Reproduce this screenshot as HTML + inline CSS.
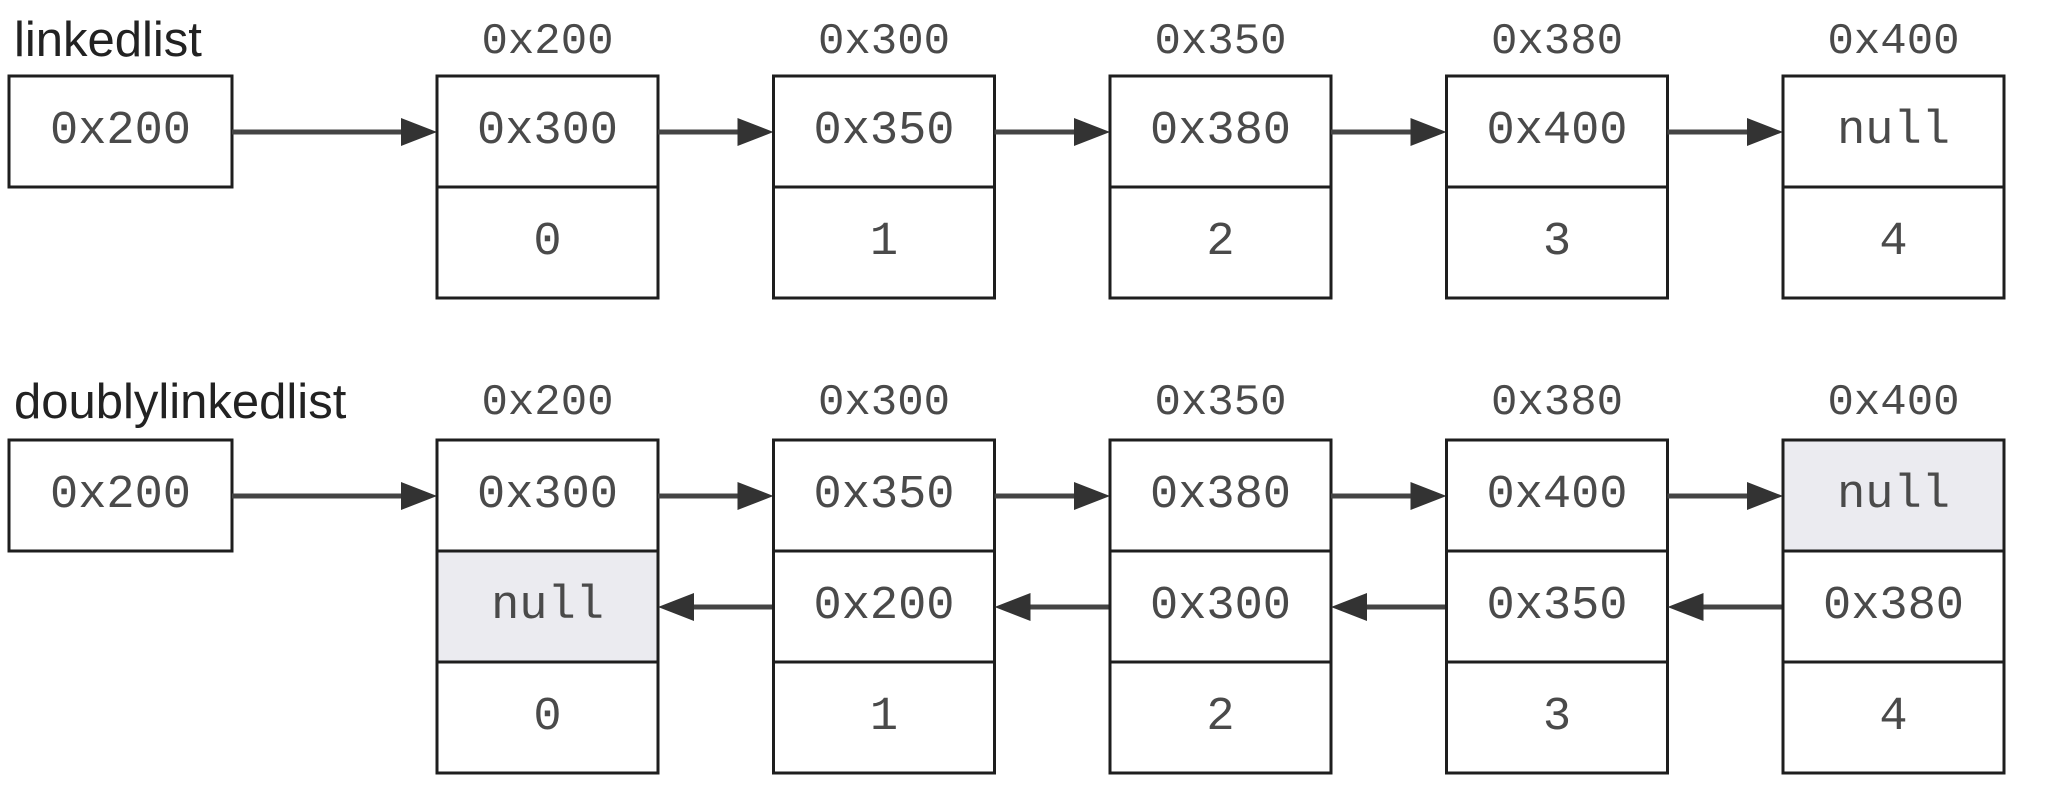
<!DOCTYPE html>
<html><head><meta charset="utf-8"><style>
html,body{margin:0;padding:0;background:#fff;}
svg{display:block;}
.mono{font-family:"Liberation Mono",monospace;fill:#4a4a4a;}
.sans{font-family:"Liberation Sans",sans-serif;fill:#222;}
</style></head>
<body>
<svg id="chart" width="2048" height="793" viewBox="0 0 2048 793" xmlns="http://www.w3.org/2000/svg"></svg>
<script>
const addresses = ["0x200","0x300","0x350","0x380","0x400"];
const singleNext = ["0x300","0x350","0x380","0x400","null"];
const doubleNext = ["0x300","0x350","0x380","0x400","null"];
const doublePrev = ["null","0x200","0x300","0x350","0x380"];
const values = ["0","1","2","3","4"];
const headValue = "0x200";

const NS = "http://www.w3.org/2000/svg";
const svg = document.getElementById('chart');
const nodeX = i => 437 + i * 336.5;
const NODE_W = 221;
const CELL_H = 111;
function el(tag, attrs, parent){
  const e = document.createElementNS(NS, tag);
  for (const k in attrs) e.setAttribute(k, attrs[k]);
  (parent || svg).appendChild(e);
  return e;
}
function text(x, y, s, cls, size, name){
  const t = el('text', {x:x, y:y, class:cls, 'font-size':size, 'text-anchor':'middle', 'dominant-baseline':'central'});
  
  
  t.textContent = s;
  return t;
}
function cell(x, y, w, h, s, shaded, name){
  const r = el('rect', {x:x, y:y, width:w, height:h, fill: shaded ? '#ebebf0' : '#fff', stroke:'#1e1e1e', 'stroke-width':3});
  
  
  text(x + w/2, y + h/2, s, 'mono', 47, name + '-text');
}
function arrow(x1, x2, y, name){
  const g = el('g', {});
  
  
  const dir = x2 > x1 ? 1 : -1;
  const hl = 36, hw = 14;
  el('line', {x1:x1, y1:y, x2:x2 - dir*hl, y2:y, stroke:'#444', 'stroke-width':5}, g);
  el('polygon', {points:`${x2},${y} ${x2-dir*hl},${y-hw} ${x2-dir*hl},${y+hw}`, fill:'#333'}, g);
}

// Titles
let t1 = el('text', {x:14, y:56, class:'sans', 'font-size':49});


t1.textContent = 'linkedlist';
let t2 = el('text', {x:14, y:418, class:'sans', 'font-size':49});


t2.textContent = 'doublylinkedlist';

// Singly linked list
const topY = 76, botY = 440;
cell(9, topY, 223, CELL_H, headValue, false, 'linkedlist-head');
arrow(232, nodeX(0), 132, 'linkedlist-head-arrow');
addresses.forEach((a, i) => {
  const x = nodeX(i);
  text(x + NODE_W/2, 42, a, 'mono', 44, 'linkedlist-address-' + i);
  cell(x, topY, NODE_W, CELL_H, singleNext[i], false, 'linkedlist-next-' + i);
  cell(x, topY + CELL_H, NODE_W, CELL_H, values[i], false, 'linkedlist-value-' + i);
  if (i < addresses.length - 1) arrow(x + NODE_W, nodeX(i+1), 132, 'linkedlist-arrow-' + i);
});

// Doubly linked list
cell(9, botY, 223, CELL_H, headValue, false, 'doublylinkedlist-head');
arrow(232, nodeX(0), 496, 'doublylinkedlist-head-arrow');
addresses.forEach((a, i) => {
  const x = nodeX(i);
  text(x + NODE_W/2, 403, a, 'mono', 44, 'doublylinkedlist-address-' + i);
  cell(x, botY, NODE_W, CELL_H, doubleNext[i], doubleNext[i] === 'null', 'doublylinkedlist-next-' + i);
  cell(x, botY + CELL_H, NODE_W, CELL_H, doublePrev[i], doublePrev[i] === 'null', 'doublylinkedlist-prev-' + i);
  cell(x, botY + 2*CELL_H, NODE_W, CELL_H, values[i], false, 'doublylinkedlist-value-' + i);
  if (i < addresses.length - 1) {
    arrow(x + NODE_W, nodeX(i+1), 496, 'doublylinkedlist-next-arrow-' + i);
    arrow(nodeX(i+1), x + NODE_W, 607, 'doublylinkedlist-prev-arrow-' + i);
  }
});
</script>
</body></html>
